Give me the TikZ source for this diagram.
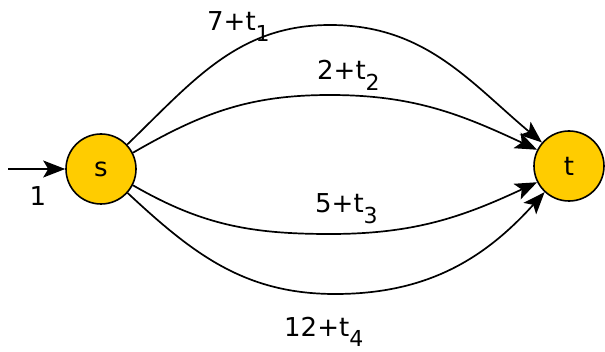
\documentclass[tikz,border=0pt]{standalone}
\usepackage{fontspec}
\setmainfont{DejaVu Sans}
\usetikzlibrary{arrows.meta}
\definecolor{cgold}{HTML}{FFCC00}
\definecolor{cdark}{HTML}{000000}
\newcommand{\wlabel}[2]{#1+t\raisebox{-0.42em}{\fontsize{22}{24}\selectfont #2}}

\begin{document}
\begin{tikzpicture}[x=1pt,y=1pt,
  state/.style={circle, draw=cdark, fill=cgold, line width=1.6pt, minimum size=70pt, inner sep=0pt, font=\fontsize{26}{30}\selectfont},
  arr/.style={-{Stealth[length=22pt, width=17pt, inset=5pt]}, line width=1.7pt, draw=cdark},
  wlbl/.style={anchor=base west, inner sep=0pt, font=\fontsize{26}{30}\selectfont}]

\useasboundingbox (0,0) rectangle (605,351);
\node[state] (s) at (101,182) {s};
\node[state] (t) at (569,185) {t};
\coordinate (start) at (8,182);
\coordinate (m1) at (330,326);
\coordinate (m2) at (330,256);
\coordinate (m3) at (330,117);
\coordinate (m4) at (335,57);

\draw[arr] (start) -- (s.west);
\node[font=\fontsize{26}{30}\selectfont, inner sep=0pt] (one) at (38,155) {1};

\draw[arr] (s.43) to[out=44, in=180] (m1) to[out=0, in=140] (t.139);
\draw[arr] (s.27) to[out=30, in=180] (m2) to[out=0, in=155] (t.153);
\draw[arr] (s.-27) to[out=-30, in=180] (m3) to[out=0, in=-155] (t.-153);
\draw[arr] (s.-42) to[out=-43, in=180] (m4) to[out=0, in=-132] (t.-133);

\node[wlbl] (w1) at (207,320) {\wlabel{7}{1}};
\node[wlbl] (w2) at (317,271) {\wlabel{2}{2}};
\node[wlbl] (w3) at (315,138) {\wlabel{5}{3}};
\node[wlbl] (w4) at (284,15) {\wlabel{12}{4}};
\end{tikzpicture}
\end{document}
